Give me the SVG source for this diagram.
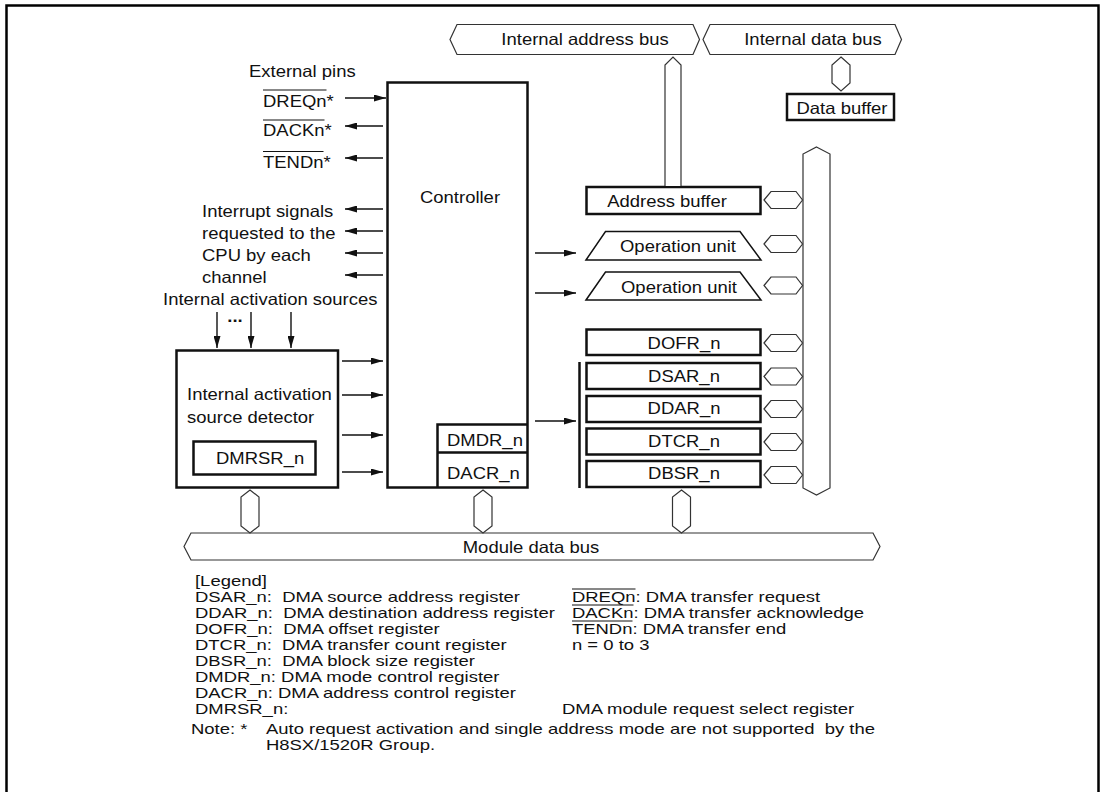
<svg xmlns="http://www.w3.org/2000/svg" width="1102" height="792" viewBox="0 0 1102 792">
<style>
.t{font-family:"Liberation Sans",Arial,Helvetica,sans-serif;font-size:16.5px;fill:#111}
.lg{font-family:"Liberation Sans",Arial,Helvetica,sans-serif;font-size:14.2px;fill:#111}
.m{text-anchor:middle}
.box{fill:#fff;stroke:#111;stroke-width:2.5}
.thin{fill:#fff;stroke:#111;stroke-width:1.5}
.bus{fill:#fff;stroke:#333;stroke-width:1.2}
.arr{stroke:#111;stroke-width:1.4;fill:none;marker-end:url(#ah)}
.ol{stroke:#111;stroke-width:1}
</style>
<defs>
<marker id="ah" markerUnits="userSpaceOnUse" markerWidth="12" markerHeight="7" refX="12" refY="3.5" orient="auto">
<path d="M0,0 L12,3.5 L0,7 z" fill="#111"/>
</marker>
</defs>
<rect width="1102" height="792" fill="#fff"/>
<path d="M6.5 792 V5.5 H1098.5 V792" fill="none" stroke="#000" stroke-width="2.5"/>

<g id="internal-address-bus">
<polygon class="bus" points="450,39.5 457,24.5 693,24.5 699.5,39.5 693,54.5 457,54.5"/>
<text class="t m" transform="translate(585 45) scale(1.12 1)">Internal address bus</text>
</g>
<g id="internal-data-bus">
<polygon class="bus" points="703,39.5 710,24.5 895,24.5 901.5,39.5 895,54.5 710,54.5"/>
<text class="t m" transform="translate(813 45) scale(1.12 1)">Internal data bus</text>
</g>
<g id="data-buffer">
<rect class="box" x="787" y="94" width="107" height="26"/>
<text class="t m" transform="translate(842 113.5) scale(1.12 1)">Data buffer</text>
</g>
<g id="right-data-bus">
<polygon class="bus" points="816.5,147 830,154 830,488 816.5,495 803,488 803,154"/>
</g>
<g id="module-data-bus">
<polygon class="bus" points="184,546.5 191,533 873,533 880,546.5 873,560 191,560"/>
<text class="t m" transform="translate(531 552.5) scale(1.12 1)">Module data bus</text>
</g>

<g id="external-pins">
<text class="t" transform="translate(249 77) scale(1.12 1)">External pins</text>
<text class="t" transform="translate(263 106.5) scale(1.12 1)">DREQn*</text>
<text class="t" transform="translate(263 136) scale(1.12 1)">DACKn*</text>
<text class="t" transform="translate(263 167.5) scale(1.12 1)">TENDn*</text>
<line class="ol" x1="263" y1="90" x2="326.5" y2="90"/>
<line class="ol" x1="263" y1="120" x2="324.5" y2="120"/>
<line class="ol" x1="263" y1="151.5" x2="323.5" y2="151.5"/>
</g>
<g id="interrupt-signals">
<text class="t" transform="translate(202 217) scale(1.12 1)">Interrupt signals</text>
<text class="t" transform="translate(202 239) scale(1.12 1)">requested to the</text>
<text class="t" transform="translate(202 261) scale(1.12 1)">CPU by each</text>
<text class="t" transform="translate(202 283) scale(1.12 1)">channel</text>
</g>
<g id="activation-sources">
<text class="t" transform="translate(163 305) scale(1.12 1)">Internal activation sources</text>
<text class="t m" font-weight="bold" transform="translate(235 322) scale(1.12 1)">...</text>
</g>

<g id="controller">
<rect class="box" x="387.5" y="82.5" width="140" height="405"/>
<text class="t" transform="translate(420 203) scale(1.12 1)">Controller</text>
<path d="M437.5 487.5 V424.5 H527.5 M437.5 452.5 H527.5" fill="none" stroke="#111" stroke-width="2.5"/>
<text class="t" transform="translate(447 446) scale(1.12 1)">DMDR_n</text>
<text class="t" transform="translate(447 478.5) scale(1.12 1)">DACR_n</text>
</g>

<g id="detector">
<rect class="box" x="176.5" y="350.5" width="161.5" height="137"/>
<text class="t" transform="translate(187 400) scale(1.12 1)">Internal activation</text>
<text class="t" transform="translate(187 423) scale(1.12 1)">source detector</text>
<rect class="box" x="193.5" y="441.5" width="122" height="33"/>
<text class="t" transform="translate(216 464) scale(1.12 1)">DMRSR_n</text>
</g>

<g id="address-buffer">
<rect class="box" x="586.5" y="187" width="174" height="27"/>
<text class="t m" transform="translate(667 207) scale(1.12 1)">Address buffer</text>
</g>
<g id="operation-unit-1">
<polygon class="thin" points="586,260 605.5,231.5 740,231.5 761,260"/>
<text class="t m" transform="translate(678 252) scale(1.12 1)">Operation unit</text>
</g>
<g id="operation-unit-2">
<polygon class="thin" points="586,300 605.5,272 740,272 761,300"/>
<text class="t m" transform="translate(679 293) scale(1.12 1)">Operation unit</text>
</g>
<g id="dofr">
<rect class="box" x="586.5" y="329.5" width="174" height="25.5"/>
<text class="t m" transform="translate(684 349) scale(1.12 1)">DOFR_n</text>
</g>
<g id="dsar">
<rect class="box" x="586.5" y="363" width="174" height="26"/>
<text class="t m" transform="translate(684 381.5) scale(1.12 1)">DSAR_n</text>
</g>
<g id="ddar">
<rect class="box" x="586.5" y="396" width="174" height="26"/>
<text class="t m" transform="translate(684 414) scale(1.12 1)">DDAR_n</text>
</g>
<g id="dtcr">
<rect class="box" x="586.5" y="428.5" width="174" height="26"/>
<text class="t m" transform="translate(684 446.5) scale(1.12 1)">DTCR_n</text>
</g>
<g id="dbsr">
<rect class="box" x="586.5" y="461" width="174" height="26"/>
<text class="t m" transform="translate(684 479) scale(1.12 1)">DBSR_n</text>
</g>
<line x1="579.5" y1="362" x2="579.5" y2="488" stroke="#111" stroke-width="2.5"/>

<g id="connectors">
<path class="bus" d="M665 186 V65 L673 57 L681 65 V186"/>
<polygon class="bus" points="841,57 850,65 850,83 841,91 832,83 832,65"/>
<polygon class="bus" points="764,200 771,191.5 796,191.5 802.5,200 796,208.5 771,208.5"/>
<polygon class="bus" points="764,244 771,235.5 796,235.5 802.5,244 796,252.5 771,252.5"/>
<polygon class="bus" points="764,285.5 771,277 796,277 802.5,285.5 796,294 771,294"/>
<polygon class="bus" points="764,343 771,334.5 796,334.5 802.5,343 796,351.5 771,351.5"/>
<polygon class="bus" points="764,376.5 771,368 796,368 802.5,376.5 796,385 771,385"/>
<polygon class="bus" points="764,409 771,400.5 796,400.5 802.5,409 796,417.5 771,417.5"/>
<polygon class="bus" points="764,442 771,433.5 796,433.5 802.5,442 796,450.5 771,450.5"/>
<polygon class="bus" points="764,475 771,466.5 796,466.5 802.5,475 796,483.5 771,483.5"/>
<polygon class="bus" points="250,490 259,497 259,526 250,533 241,526 241,497"/>
<polygon class="bus" points="483,490 492,497 492,526 483,533 474,526 474,497"/>
<polygon class="bus" points="681.5,490 690.5,497 690.5,526 681.5,533 672.5,526 672.5,497"/>
<line class="arr" x1="345" y1="98" x2="386" y2="98"/>
<line class="arr" x1="383" y1="126" x2="345" y2="126"/>
<line class="arr" x1="383" y1="158" x2="345" y2="158"/>
<line class="arr" x1="383" y1="209" x2="345" y2="209"/>
<line class="arr" x1="383" y1="231" x2="345" y2="231"/>
<line class="arr" x1="383" y1="253" x2="345" y2="253"/>
<line class="arr" x1="383" y1="275" x2="345" y2="275"/>
<line class="arr" x1="217" y1="312" x2="217" y2="348"/>
<line class="arr" x1="251" y1="312" x2="251" y2="348"/>
<line class="arr" x1="291" y1="312" x2="291" y2="348"/>
<line class="arr" x1="342" y1="361" x2="383" y2="361"/>
<line class="arr" x1="342" y1="395" x2="383" y2="395"/>
<line class="arr" x1="342" y1="435" x2="383" y2="435"/>
<line class="arr" x1="342" y1="472" x2="383" y2="472"/>
<line class="arr" x1="535" y1="253" x2="576" y2="253"/>
<line class="arr" x1="535" y1="293" x2="576" y2="293"/>
<line class="arr" x1="535" y1="421" x2="576" y2="421"/>
</g>

<g id="legend">
<g transform="translate(195 0) scale(1.3 1)">
<text class="lg" x="0" y="586">[Legend]</text>
<text class="lg" x="0" y="602.5" xml:space="preserve">DSAR_n:  DMA source address register</text>
<text class="lg" x="0" y="618.4" xml:space="preserve">DDAR_n:  DMA destination address register</text>
<text class="lg" x="0" y="634.3" xml:space="preserve">DOFR_n:  DMA offset register</text>
<text class="lg" x="0" y="650.2" xml:space="preserve">DTCR_n:  DMA transfer count register</text>
<text class="lg" x="0" y="666.1" xml:space="preserve">DBSR_n:  DMA block size register</text>
<text class="lg" x="0" y="682">DMDR_n: DMA mode control register</text>
<text class="lg" x="0" y="697.9">DACR_n: DMA address control register</text>
<text class="lg" x="0" y="714">DMRSR_n:</text>
<text class="lg" x="282.3" y="714">DMA module request select register</text>
<text class="lg" x="290" y="602.5">DREQn: DMA transfer request</text>
<text class="lg" x="290" y="618.4">DACKn: DMA transfer acknowledge</text>
<text class="lg" x="290" y="634.3">TENDn: DMA transfer end</text>
<text class="lg" x="290" y="650.2">n = 0 to 3</text>
<text class="lg" x="-3.1" y="734.5">Note: *</text>
<text class="lg" x="54.6" y="734.5" xml:space="preserve">Auto request activation and single address mode are not supported  by the</text>
<text class="lg" x="54.6" y="750.5">H8SX/1520R Group.</text>
</g>
<line class="ol" x1="572" y1="589" x2="635.5" y2="589"/>
<line class="ol" x1="572" y1="605" x2="633.5" y2="605"/>
<line class="ol" x1="572" y1="621" x2="632.5" y2="621"/>
</g>
</svg>
